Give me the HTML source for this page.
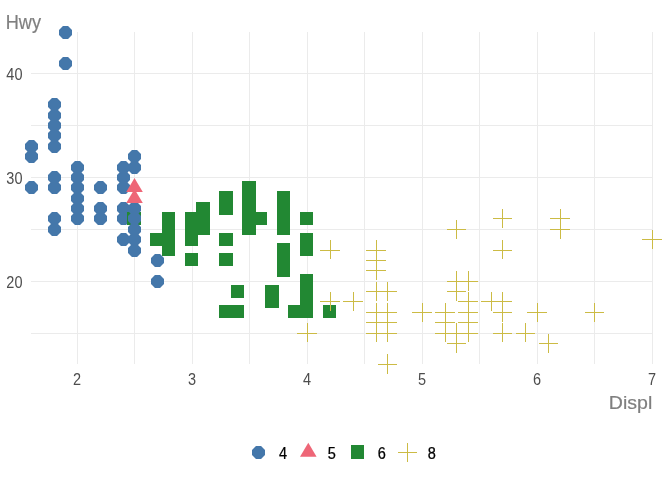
<!DOCTYPE html><html><head><meta charset="utf-8"><title>Hwy vs Displ</title>
<style>html,body{margin:0;padding:0;background:#fff}svg{display:block}text{font-family:"Liberation Sans",sans-serif}</style></head><body>
<svg width="672" height="480" viewBox="0 0 672 480">
<rect width="672" height="480" fill="#fff"/>
<path d="M31 333.5H652.5M31 281.5H652.5M31 229.5H652.5M31 177.5H652.5M31 125.5H652.5M31 73.5H652.5M77.5 32V364M134.5 32V364M192.5 32V364M249.5 32V364M307.5 32V364M364.5 32V364M422.5 32V364M479.5 32V364M537.5 32V364M594.5 32V364M652.5 32V364" stroke="#ebebeb" stroke-width="1" fill="none"/>
<g>
<polygon points="51.95,181.00 57.05,181.00 61.00,184.95 61.00,190.05 57.05,194.00 51.95,194.00 48.00,190.05 48.00,184.95" fill="#4477AA"/>
<polygon points="74.95,161.00 80.05,161.00 84.00,164.95 84.00,170.05 80.05,174.00 74.95,174.00 71.00,170.05 71.00,164.95" fill="#4477AA"/>
<polygon points="74.95,171.00 80.05,171.00 84.00,174.95 84.00,180.05 80.05,184.00 74.95,184.00 71.00,180.05 71.00,174.95" fill="#4477AA"/>
<rect x="161.90" y="211.90" width="13.3" height="13" fill="#228833" shape-rendering="crispEdges"/>
<rect x="196.40" y="201.53" width="13.3" height="13" fill="#228833" shape-rendering="crispEdges"/>
<polygon points="51.95,212.00 57.05,212.00 61.00,215.95 61.00,221.05 57.05,225.00 51.95,225.00 48.00,221.05 48.00,215.95" fill="#4477AA"/>
<polygon points="51.95,223.00 57.05,223.00 61.00,226.95 61.00,232.05 57.05,236.00 51.95,236.00 48.00,232.05 48.00,226.95" fill="#4477AA"/>
<polygon points="74.95,192.00 80.05,192.00 84.00,195.95 84.00,201.05 80.05,205.00 74.95,205.00 71.00,201.05 71.00,195.95" fill="#4477AA"/>
<polygon points="74.95,202.00 80.05,202.00 84.00,205.95 84.00,211.05 80.05,215.00 74.95,215.00 71.00,211.05 71.00,205.95" fill="#4477AA"/>
<rect x="161.90" y="222.28" width="13.3" height="13" fill="#228833" shape-rendering="crispEdges"/>
<rect x="196.40" y="222.28" width="13.3" height="13" fill="#228833" shape-rendering="crispEdges"/>
<rect x="161.90" y="232.65" width="13.3" height="13" fill="#228833" shape-rendering="crispEdges"/>
<path d="M320.40 250h19.2v1h-19.2zM330 240.28h1v19.2h-1z" fill="#CCBB44" shape-rendering="crispEdges"/>
<path d="M446.90 281h19.2v1h-19.2zM456 271.40h1v19.2h-1z" fill="#CCBB44" shape-rendering="crispEdges"/>
<path d="M446.90 333h19.2v1h-19.2zM456 323.27h1v19.2h-1z" fill="#CCBB44" shape-rendering="crispEdges"/>
<path d="M492.90 312h19.2v1h-19.2zM502 302.52h1v19.2h-1z" fill="#CCBB44" shape-rendering="crispEdges"/>
<path d="M527.40 312h19.2v1h-19.2zM537 302.52h1v19.2h-1z" fill="#CCBB44" shape-rendering="crispEdges"/>
<path d="M492.90 218h19.2v1h-19.2zM502 209.15h1v19.2h-1z" fill="#CCBB44" shape-rendering="crispEdges"/>
<path d="M492.90 250h19.2v1h-19.2zM502 240.28h1v19.2h-1z" fill="#CCBB44" shape-rendering="crispEdges"/>
<path d="M550.40 218h19.2v1h-19.2zM560 209.15h1v19.2h-1z" fill="#CCBB44" shape-rendering="crispEdges"/>
<path d="M550.40 229h19.2v1h-19.2zM560 219.53h1v19.2h-1z" fill="#CCBB44" shape-rendering="crispEdges"/>
<path d="M642.40 239h19.2v1h-19.2zM652 229.90h1v19.2h-1z" fill="#CCBB44" shape-rendering="crispEdges"/>
<path d="M446.90 291h19.2v1h-19.2zM456 281.77h1v19.2h-1z" fill="#CCBB44" shape-rendering="crispEdges"/>
<path d="M446.90 343h19.2v1h-19.2zM456 333.65h1v19.2h-1z" fill="#CCBB44" shape-rendering="crispEdges"/>
<path d="M492.90 333h19.2v1h-19.2zM502 323.27h1v19.2h-1z" fill="#CCBB44" shape-rendering="crispEdges"/>
<path d="M584.90 312h19.2v1h-19.2zM594 302.52h1v19.2h-1z" fill="#CCBB44" shape-rendering="crispEdges"/>
<polygon points="120.95,202.00 126.05,202.00 130.00,205.95 130.00,211.05 126.05,215.00 120.95,215.00 117.00,211.05 117.00,205.95" fill="#4477AA"/>
<polygon points="120.95,171.00 126.05,171.00 130.00,174.95 130.00,180.05 126.05,184.00 120.95,184.00 117.00,180.05 117.00,174.95" fill="#4477AA"/>
<rect x="196.40" y="211.90" width="13.3" height="13" fill="#228833" shape-rendering="crispEdges"/>
<rect x="242.40" y="180.78" width="13.3" height="13" fill="#228833" shape-rendering="crispEdges"/>
<rect x="253.90" y="211.90" width="13.3" height="13" fill="#228833" shape-rendering="crispEdges"/>
<polygon points="120.95,233.00 126.05,233.00 130.00,236.95 130.00,242.05 126.05,246.00 120.95,246.00 117.00,242.05 117.00,236.95" fill="#4477AA"/>
<rect x="184.90" y="232.65" width="13.3" height="13" fill="#228833" shape-rendering="crispEdges"/>
<rect x="219.40" y="253.40" width="13.3" height="13" fill="#228833" shape-rendering="crispEdges"/>
<rect x="219.40" y="232.65" width="13.3" height="13" fill="#228833" shape-rendering="crispEdges"/>
<rect x="219.40" y="305.27" width="13.3" height="13" fill="#228833" shape-rendering="crispEdges"/>
<rect x="276.90" y="253.40" width="13.3" height="13" fill="#228833" shape-rendering="crispEdges"/>
<rect x="276.90" y="263.77" width="13.3" height="13" fill="#228833" shape-rendering="crispEdges"/>
<rect x="276.90" y="243.03" width="13.3" height="13" fill="#228833" shape-rendering="crispEdges"/>
<rect x="299.90" y="243.03" width="13.3" height="13" fill="#228833" shape-rendering="crispEdges"/>
<rect x="265.40" y="284.52" width="13.3" height="13" fill="#228833" shape-rendering="crispEdges"/>
<rect x="265.40" y="294.90" width="13.3" height="13" fill="#228833" shape-rendering="crispEdges"/>
<rect x="288.40" y="305.27" width="13.3" height="13" fill="#228833" shape-rendering="crispEdges"/>
<path d="M377.90 291h19.2v1h-19.2zM387 281.77h1v19.2h-1z" fill="#CCBB44" shape-rendering="crispEdges"/>
<path d="M377.90 364h19.2v1h-19.2zM387 354.40h1v19.2h-1z" fill="#CCBB44" shape-rendering="crispEdges"/>
<path d="M435.40 312h19.2v1h-19.2zM445 302.52h1v19.2h-1z" fill="#CCBB44" shape-rendering="crispEdges"/>
<path d="M435.40 333h19.2v1h-19.2zM445 323.27h1v19.2h-1z" fill="#CCBB44" shape-rendering="crispEdges"/>
<path d="M377.90 312h19.2v1h-19.2zM387 302.52h1v19.2h-1z" fill="#CCBB44" shape-rendering="crispEdges"/>
<path d="M435.40 322h19.2v1h-19.2zM445 312.90h1v19.2h-1z" fill="#CCBB44" shape-rendering="crispEdges"/>
<path d="M492.90 301h19.2v1h-19.2zM502 292.15h1v19.2h-1z" fill="#CCBB44" shape-rendering="crispEdges"/>
<path d="M515.90 333h19.2v1h-19.2zM525 323.27h1v19.2h-1z" fill="#CCBB44" shape-rendering="crispEdges"/>
<path d="M377.90 322h19.2v1h-19.2zM387 312.90h1v19.2h-1z" fill="#CCBB44" shape-rendering="crispEdges"/>
<path d="M366.40 312h19.2v1h-19.2zM376 302.52h1v19.2h-1z" fill="#CCBB44" shape-rendering="crispEdges"/>
<path d="M458.40 312h19.2v1h-19.2zM468 302.52h1v19.2h-1z" fill="#CCBB44" shape-rendering="crispEdges"/>
<path d="M458.40 301h19.2v1h-19.2zM468 292.15h1v19.2h-1z" fill="#CCBB44" shape-rendering="crispEdges"/>
<rect x="299.90" y="305.27" width="13.3" height="13" fill="#228833" shape-rendering="crispEdges"/>
<rect x="299.90" y="284.52" width="13.3" height="13" fill="#228833" shape-rendering="crispEdges"/>
<path d="M366.40 291h19.2v1h-19.2zM376 281.77h1v19.2h-1z" fill="#CCBB44" shape-rendering="crispEdges"/>
<path d="M412.40 312h19.2v1h-19.2zM422 302.52h1v19.2h-1z" fill="#CCBB44" shape-rendering="crispEdges"/>
<rect x="322.90" y="305.27" width="13.3" height="13" fill="#228833" shape-rendering="crispEdges"/>
<path d="M366.40 322h19.2v1h-19.2zM376 312.90h1v19.2h-1z" fill="#CCBB44" shape-rendering="crispEdges"/>
<path d="M458.40 333h19.2v1h-19.2zM468 323.27h1v19.2h-1z" fill="#CCBB44" shape-rendering="crispEdges"/>
<rect x="276.90" y="211.90" width="13.3" height="13" fill="#228833" shape-rendering="crispEdges"/>
<rect x="276.90" y="222.28" width="13.3" height="13" fill="#228833" shape-rendering="crispEdges"/>
<rect x="299.90" y="211.90" width="13.3" height="13" fill="#228833" shape-rendering="crispEdges"/>
<rect x="299.90" y="232.65" width="13.3" height="13" fill="#228833" shape-rendering="crispEdges"/>
<path d="M366.40 270h19.2v1h-19.2zM376 261.02h1v19.2h-1z" fill="#CCBB44" shape-rendering="crispEdges"/>
<path d="M366.40 260h19.2v1h-19.2zM376 250.65h1v19.2h-1z" fill="#CCBB44" shape-rendering="crispEdges"/>
<path d="M366.40 250h19.2v1h-19.2zM376 240.28h1v19.2h-1z" fill="#CCBB44" shape-rendering="crispEdges"/>
<path d="M458.40 281h19.2v1h-19.2zM468 271.40h1v19.2h-1z" fill="#CCBB44" shape-rendering="crispEdges"/>
<polygon points="28.95,140.00 34.05,140.00 38.00,143.95 38.00,149.05 34.05,153.00 28.95,153.00 25.00,149.05 25.00,143.95" fill="#4477AA"/>
<polygon points="28.95,150.00 34.05,150.00 38.00,153.95 38.00,159.05 34.05,163.00 28.95,163.00 25.00,159.05 25.00,153.95" fill="#4477AA"/>
<polygon points="28.95,181.00 34.05,181.00 38.00,184.95 38.00,190.05 34.05,194.00 28.95,194.00 25.00,190.05 25.00,184.95" fill="#4477AA"/>
<polygon points="51.95,129.00 57.05,129.00 61.00,132.95 61.00,138.05 57.05,142.00 51.95,142.00 48.00,138.05 48.00,132.95" fill="#4477AA"/>
<polygon points="51.95,109.00 57.05,109.00 61.00,112.95 61.00,118.05 57.05,122.00 51.95,122.00 48.00,118.05 48.00,112.95" fill="#4477AA"/>
<polygon points="74.95,181.00 80.05,181.00 84.00,184.95 84.00,190.05 80.05,194.00 74.95,194.00 71.00,190.05 71.00,184.95" fill="#4477AA"/>
<polygon points="120.95,212.00 126.05,212.00 130.00,215.95 130.00,221.05 126.05,225.00 120.95,225.00 117.00,221.05 117.00,215.95" fill="#4477AA"/>
<polygon points="120.95,161.00 126.05,161.00 130.00,164.95 130.00,170.05 126.05,174.00 120.95,174.00 117.00,170.05 117.00,164.95" fill="#4477AA"/>
<rect x="127.40" y="211.90" width="13.3" height="13" fill="#228833" shape-rendering="crispEdges"/>
<rect x="219.40" y="191.15" width="13.3" height="13" fill="#228833" shape-rendering="crispEdges"/>
<polygon points="74.95,212.00 80.05,212.00 84.00,215.95 84.00,221.05 80.05,225.00 74.95,225.00 71.00,221.05 71.00,215.95" fill="#4477AA"/>
<rect x="150.40" y="232.65" width="13.3" height="13" fill="#228833" shape-rendering="crispEdges"/>
<rect x="184.90" y="253.40" width="13.3" height="13" fill="#228833" shape-rendering="crispEdges"/>
<rect x="299.90" y="274.15" width="13.3" height="13" fill="#228833" shape-rendering="crispEdges"/>
<path d="M538.90 343h19.2v1h-19.2zM548 333.65h1v19.2h-1z" fill="#CCBB44" shape-rendering="crispEdges"/>
<path d="M297.40 333h19.2v1h-19.2zM307 323.27h1v19.2h-1z" fill="#CCBB44" shape-rendering="crispEdges"/>
<path d="M320.40 301h19.2v1h-19.2zM330 292.15h1v19.2h-1z" fill="#CCBB44" shape-rendering="crispEdges"/>
<path d="M343.40 301h19.2v1h-19.2zM353 292.15h1v19.2h-1z" fill="#CCBB44" shape-rendering="crispEdges"/>
<path d="M366.40 333h19.2v1h-19.2zM376 323.27h1v19.2h-1z" fill="#CCBB44" shape-rendering="crispEdges"/>
<path d="M458.40 322h19.2v1h-19.2zM468 312.90h1v19.2h-1z" fill="#CCBB44" shape-rendering="crispEdges"/>
<polygon points="120.95,181.00 126.05,181.00 130.00,184.95 130.00,190.05 126.05,194.00 120.95,194.00 117.00,190.05 117.00,184.95" fill="#4477AA"/>
<polygon points="131.95,161.00 137.05,161.00 141.00,164.95 141.00,170.05 137.05,174.00 131.95,174.00 128.00,170.05 128.00,164.95" fill="#4477AA"/>
<polygon points="131.95,150.00 137.05,150.00 141.00,153.95 141.00,159.05 137.05,163.00 131.95,163.00 128.00,159.05 128.00,153.95" fill="#4477AA"/>
<rect x="242.40" y="201.53" width="13.3" height="13" fill="#228833" shape-rendering="crispEdges"/>
<rect x="242.40" y="211.90" width="13.3" height="13" fill="#228833" shape-rendering="crispEdges"/>
<rect x="184.90" y="211.90" width="13.3" height="13" fill="#228833" shape-rendering="crispEdges"/>
<rect x="184.90" y="222.28" width="13.3" height="13" fill="#228833" shape-rendering="crispEdges"/>
<rect x="242.40" y="222.28" width="13.3" height="13" fill="#228833" shape-rendering="crispEdges"/>
<path d="M481.40 301h19.2v1h-19.2zM491 292.15h1v19.2h-1z" fill="#CCBB44" shape-rendering="crispEdges"/>
<rect x="276.90" y="201.53" width="13.3" height="13" fill="#228833" shape-rendering="crispEdges"/>
<rect x="276.90" y="191.15" width="13.3" height="13" fill="#228833" shape-rendering="crispEdges"/>
<path d="M446.90 229h19.2v1h-19.2zM456 219.53h1v19.2h-1z" fill="#CCBB44" shape-rendering="crispEdges"/>
<polygon points="131.95,223.00 137.05,223.00 141.00,226.95 141.00,232.05 137.05,236.00 131.95,236.00 128.00,232.05 128.00,226.95" fill="#4477AA"/>
<polygon points="131.95,233.00 137.05,233.00 141.00,236.95 141.00,242.05 137.05,246.00 131.95,246.00 128.00,242.05 128.00,236.95" fill="#4477AA"/>
<polygon points="131.95,202.00 137.05,202.00 141.00,205.95 141.00,211.05 137.05,215.00 131.95,215.00 128.00,211.05 128.00,205.95" fill="#4477AA"/>
<polygon points="131.95,212.00 137.05,212.00 141.00,215.95 141.00,221.05 137.05,225.00 131.95,225.00 128.00,221.05 128.00,215.95" fill="#4477AA"/>
<polygon points="131.95,244.00 137.05,244.00 141.00,247.95 141.00,253.05 137.05,257.00 131.95,257.00 128.00,253.05 128.00,247.95" fill="#4477AA"/>
<polygon points="97.95,212.00 103.05,212.00 107.00,215.95 107.00,221.05 103.05,225.00 97.95,225.00 94.00,221.05 94.00,215.95" fill="#4477AA"/>
<polygon points="154.95,275.00 160.05,275.00 164.00,278.95 164.00,284.05 160.05,288.00 154.95,288.00 151.00,284.05 151.00,278.95" fill="#4477AA"/>
<rect x="230.90" y="284.52" width="13.3" height="13" fill="#228833" shape-rendering="crispEdges"/>
<rect x="230.90" y="305.27" width="13.3" height="13" fill="#228833" shape-rendering="crispEdges"/>
<polygon points="97.95,181.00 103.05,181.00 107.00,184.95 107.00,190.05 103.05,194.00 97.95,194.00 94.00,190.05 94.00,184.95" fill="#4477AA"/>
<polygon points="97.95,202.00 103.05,202.00 107.00,205.95 107.00,211.05 103.05,215.00 97.95,215.00 94.00,211.05 94.00,205.95" fill="#4477AA"/>
<rect x="242.40" y="191.15" width="13.3" height="13" fill="#228833" shape-rendering="crispEdges"/>
<rect x="219.40" y="201.53" width="13.3" height="13" fill="#228833" shape-rendering="crispEdges"/>
<polygon points="51.95,171.00 57.05,171.00 61.00,174.95 61.00,180.05 57.05,184.00 51.95,184.00 48.00,180.05 48.00,174.95" fill="#4477AA"/>
<polygon points="51.95,140.00 57.05,140.00 61.00,143.95 61.00,149.05 57.05,153.00 51.95,153.00 48.00,149.05 48.00,143.95" fill="#4477AA"/>
<polygon points="51.95,119.00 57.05,119.00 61.00,122.95 61.00,128.05 57.05,132.00 51.95,132.00 48.00,128.05 48.00,122.95" fill="#4477AA"/>
<polygon points="51.95,98.00 57.05,98.00 61.00,101.95 61.00,107.05 57.05,111.00 51.95,111.00 48.00,107.05 48.00,101.95" fill="#4477AA"/>
<path d="M377.90 333h19.2v1h-19.2zM387 323.27h1v19.2h-1z" fill="#CCBB44" shape-rendering="crispEdges"/>
<polygon points="154.95,254.00 160.05,254.00 164.00,257.95 164.00,263.05 160.05,267.00 154.95,267.00 151.00,263.05 151.00,257.95" fill="#4477AA"/>
<rect x="299.90" y="294.90" width="13.3" height="13" fill="#228833" shape-rendering="crispEdges"/>
<polygon points="62.95,26.00 68.05,26.00 72.00,29.95 72.00,35.05 68.05,39.00 62.95,39.00 59.00,35.05 59.00,29.95" fill="#4477AA"/>
<polygon points="134.50,178.00 142.80,192.00 126.20,192.00" fill="#EE6677"/>
<rect x="161.90" y="243.03" width="13.3" height="13" fill="#228833" shape-rendering="crispEdges"/>
<polygon points="62.95,57.00 68.05,57.00 72.00,60.95 72.00,66.05 68.05,70.00 62.95,70.00 59.00,66.05 59.00,60.95" fill="#4477AA"/>
<polygon points="134.50,189.00 142.80,203.00 126.20,203.00" fill="#EE6677"/>
</g>
<text transform="translate(22.5,287.9) scale(0.93,1)" font-size="15.6" fill="#4d4d4d" stroke="#4d4d4d" stroke-width="0.0" text-anchor="end">20</text>
<text transform="translate(22.5,183.9) scale(0.93,1)" font-size="15.6" fill="#4d4d4d" stroke="#4d4d4d" stroke-width="0.0" text-anchor="end">30</text>
<text transform="translate(22.5,79.9) scale(0.93,1)" font-size="15.6" fill="#4d4d4d" stroke="#4d4d4d" stroke-width="0.0" text-anchor="end">40</text>
<text transform="translate(77,385) scale(0.93,1)" font-size="15.6" fill="#4d4d4d" stroke="#4d4d4d" stroke-width="0.0" text-anchor="middle">2</text>
<text transform="translate(192,385) scale(0.93,1)" font-size="15.6" fill="#4d4d4d" stroke="#4d4d4d" stroke-width="0.0" text-anchor="middle">3</text>
<text transform="translate(307,385) scale(0.93,1)" font-size="15.6" fill="#4d4d4d" stroke="#4d4d4d" stroke-width="0.0" text-anchor="middle">4</text>
<text transform="translate(422,385) scale(0.93,1)" font-size="15.6" fill="#4d4d4d" stroke="#4d4d4d" stroke-width="0.0" text-anchor="middle">5</text>
<text transform="translate(537,385) scale(0.93,1)" font-size="15.6" fill="#4d4d4d" stroke="#4d4d4d" stroke-width="0.0" text-anchor="middle">6</text>
<text transform="translate(652,385) scale(0.93,1)" font-size="15.6" fill="#4d4d4d" stroke="#4d4d4d" stroke-width="0.0" text-anchor="middle">7</text>
<text transform="translate(5.7,29) scale(0.94,1)" font-size="19.3" fill="#7f7f7f" stroke="#7f7f7f" stroke-width="0.2" text-anchor="start">Hwy</text>
<text transform="translate(652.3,409.3) scale(1.03,1)" font-size="19" fill="#7f7f7f" stroke="#7f7f7f" stroke-width="0.2" text-anchor="end">Displ</text>
<polygon points="255.95,446.00 261.05,446.00 265.00,449.95 265.00,455.05 261.05,459.00 255.95,459.00 252.00,455.05 252.00,449.95" fill="#4477AA"/>
<polygon points="308.30,442.70 316.60,456.70 300.00,456.70" fill="#EE6677"/>
<rect x="351" y="445" width="13" height="14" fill="#228833"/>
<path d="M398 452.5h19M407.5 443v19" stroke="#CCBB44" stroke-width="1" fill="none"/>
<text transform="translate(283.0,458.8) scale(0.93,1)" font-size="15.6" fill="#000" stroke="#000" stroke-width="0.25" text-anchor="middle">4</text>
<text transform="translate(331.7,458.8) scale(0.93,1)" font-size="15.6" fill="#000" stroke="#000" stroke-width="0.25" text-anchor="middle">5</text>
<text transform="translate(381.7,458.8) scale(0.93,1)" font-size="15.6" fill="#000" stroke="#000" stroke-width="0.25" text-anchor="middle">6</text>
<text transform="translate(431.7,458.8) scale(0.93,1)" font-size="15.6" fill="#000" stroke="#000" stroke-width="0.25" text-anchor="middle">8</text>
</svg></body></html>
